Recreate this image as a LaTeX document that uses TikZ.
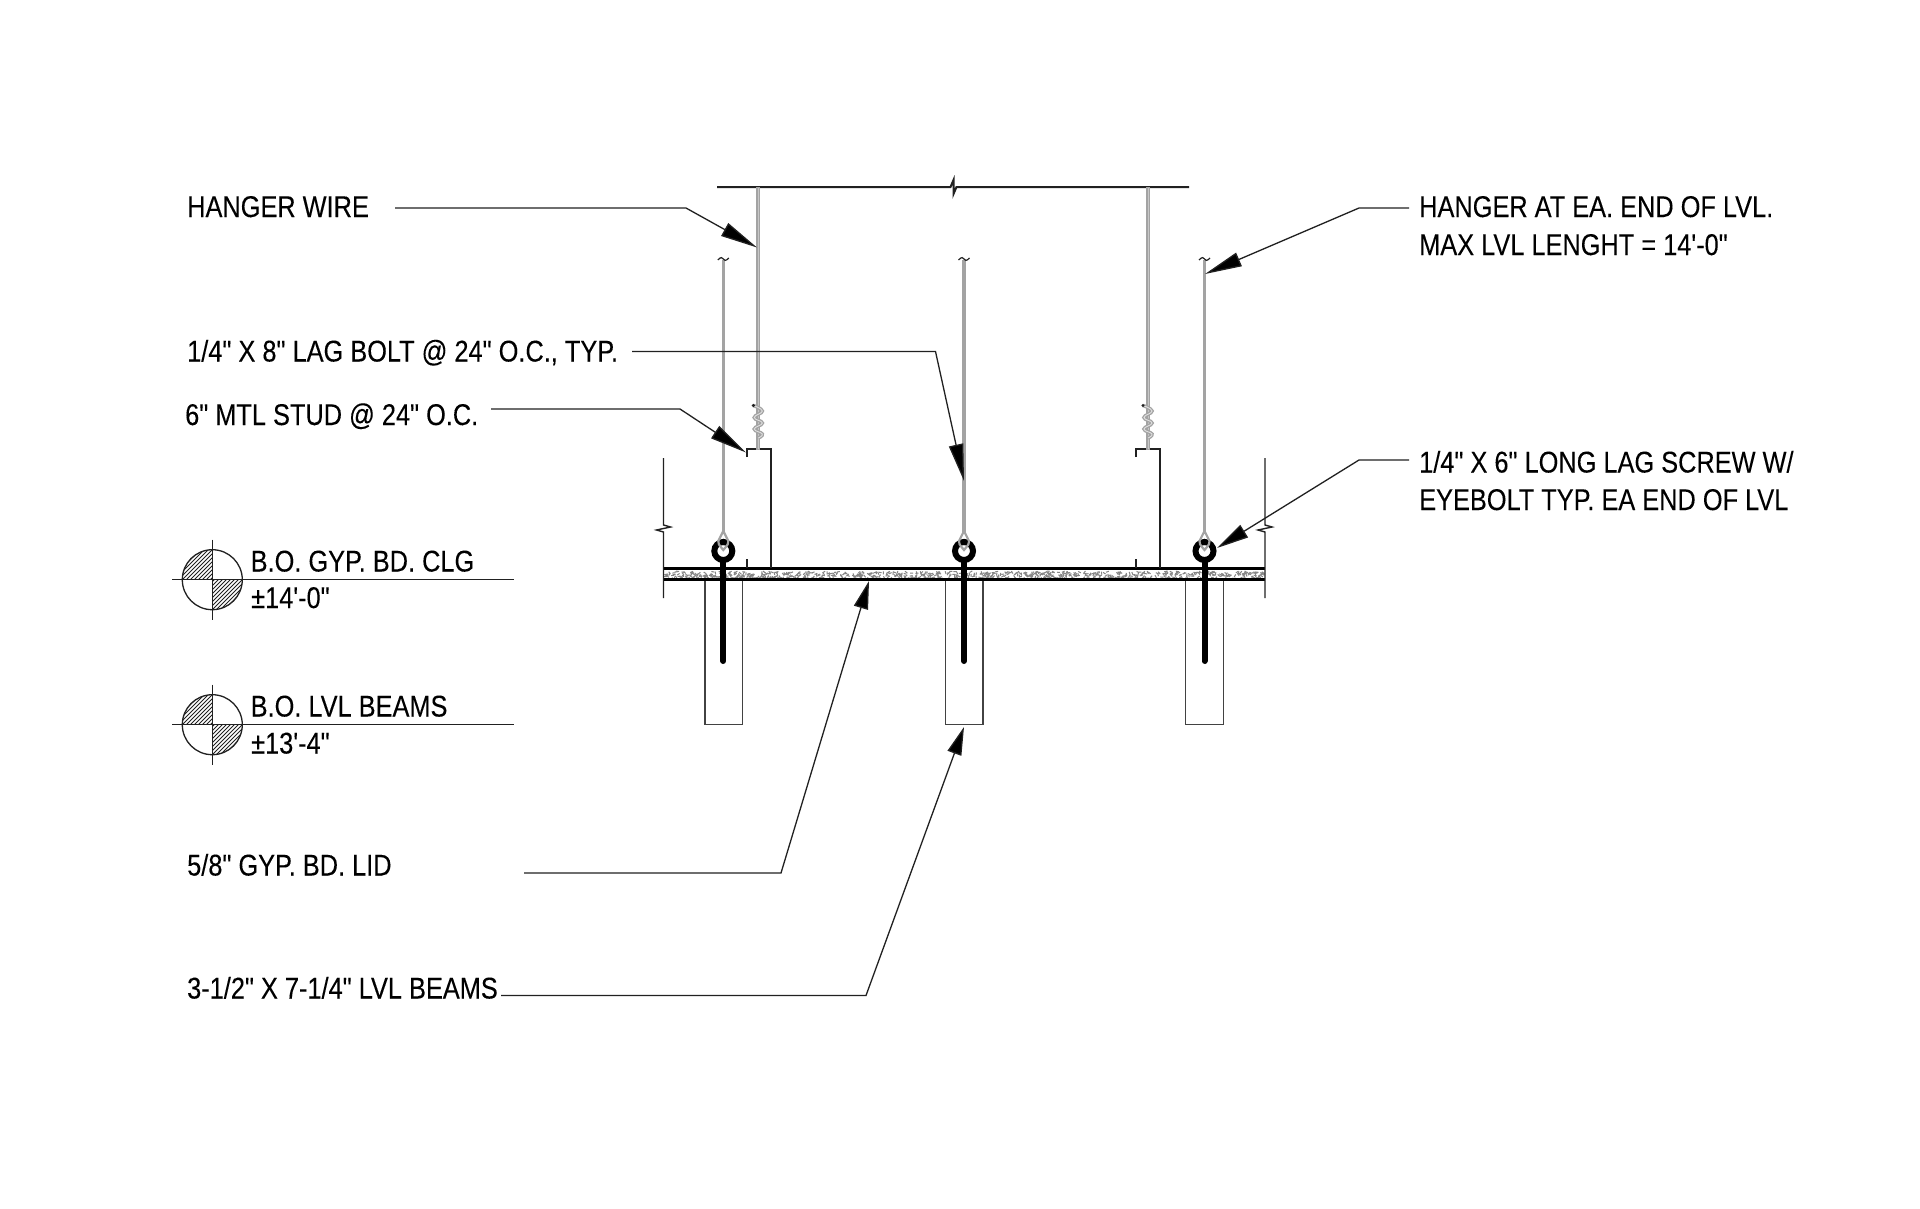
\documentclass[tikz,border=0pt]{standalone}
\usepackage{fontspec}
\newfontfamily\lab[FakeStretch=0.845,FakeBold=0.12]{Liberation Sans}
\usetikzlibrary{arrows.meta}
\definecolor{wiregray}{gray}{0.64}
\definecolor{ink}{gray}{0.13}
\tikzset{
  x=1pt,y=-1pt,
  txt/.style={anchor=base west,inner sep=0pt,font=\lab\fontsize{30}{30}\selectfont,text=black},
  leader/.style={draw=ink,line width=1.3pt,-{Triangle[length=#1,width=14.5pt,fill=black]}},
  thin line/.style={draw=ink!85!white,line width=1.6pt},
  heavy/.style={draw=black,line width=2.8pt},
  wire/.style={draw=wiregray,line width=3.3pt},
  bolt/.style={draw=black,line width=6pt,line cap=round},
}
\newcommand{\eyebolt}[1]{%
  \draw[bolt] (#1,551) circle (9);
  \draw[bolt] (#1,561) -- (#1,661);
  \draw[wire,line width=2.2pt] (#1,531) -- (#1-5,541) .. controls (#1-5,544) .. (#1,550) .. controls (#1+5,544) .. (#1+5,541) -- cycle;
  \draw[wire,line width=3.6pt] (#1,527) -- (#1,533);
  \fill[black] (#1,542) circle (3.2);
}
\newcommand{\tiewire}[1]{%
  \draw[wiregray,line width=1.3pt,double=black!12,double distance=.9pt]
    plot[smooth,tension=.8] coordinates {(#1-5,405.5) (#1+4,411) (#1-4,417.5) (#1+4,423) (#1-4,429) (#1+4,434) (#1,438)};
  \fill[ink] (#1-5,405.5) circle (1.7);
}
\newcommand{\levelmark}[2]{%
  \begin{scope}
    \clip (#1,#2) -- (#1-30,#2) arc (180:270:30) -- cycle;
    \foreach \i in {-92,-88,...,32}{\draw[ink,line width=.9pt] (#1+\i,#2+30) -- (#1+\i+60,#2-30);}
  \end{scope}
  \begin{scope}
    \clip (#1,#2) -- (#1+30,#2) arc (0:90:30) -- cycle;
    \foreach \i in {-32,-28,...,32}{\draw[ink,line width=.9pt] (#1+\i,#2+30) -- (#1+\i+60,#2-30);}
  \end{scope}
  \draw[line width=1.3pt,draw=ink] (#1,#2) circle (30);
  \draw[line width=1.3pt,draw=ink] (#1,#2-40) -- (#1,#2+40);
  \draw[line width=1.3pt,draw=ink] (#1-40,#2) -- (514,#2);
}
\begin{document}
\begin{tikzpicture}
\useasboundingbox (0,0) rectangle (1920,1208);
\fill[white] (0,0) rectangle (1920,1208);

% gypsum board
\pgfmathsetseed{4242}
\foreach \i in {1,...,800}{
  \pgfmathsetmacro{\px}{665+598*rnd}
  \pgfmathsetmacro{\py}{571+7*rnd}
  \pgfmathsetmacro{\ang}{180*rnd}
  \draw[black!48,line width=1pt] (\px,\py) -- ++(\ang:3);
}
\draw[heavy] (663,568.5) -- (1265,568.5);
\draw[heavy,line width=3.2pt] (663,579.5) -- (1265,579.5);

% beams
\draw[thin line] (705,581) -- (705,724.5) -- (742.5,724.5) -- (742.5,581);
\draw[thin line] (945.5,581) -- (945.5,724.5) -- (983,724.5) -- (983,581);
\draw[thin line] (1185.5,581) -- (1185.5,724.5) -- (1223.5,724.5) -- (1223.5,581);

% side break lines
\foreach \bx in {663.5,1265}{
  \draw[line width=1.4pt,draw=ink] (\bx,458) -- (\bx,525) -- (\bx+7,527) -- (\bx-7,530) -- (\bx,532) -- (\bx,598);
}

% top line
\draw[line width=2pt,draw=ink] (717,187) -- (950.5,187) -- (953.5,180) -- (953.5,194) -- (956.5,187) -- (1189,187);

% studs
\draw[line width=2pt,draw=ink] (746.5,457) -- (746.5,448.5) -- (770.5,448.5) -- (770.5,568);
\draw[line width=2pt,draw=ink] (746.5,559) -- (746.5,568);
\draw[line width=2pt,draw=ink] (1136,457) -- (1136,448.5) -- (1160,448.5) -- (1160,568);
\draw[line width=2pt,draw=ink] (1136,559) -- (1136,568);

% wires
\foreach \wx in {758.3,1148}{
  \draw[wire,line width=3.8pt] (\wx,187) -- (\wx,450);
  \draw[black!22,line width=.9pt] (\wx,188) -- (\wx,449);
  \tiewire{\wx}
}
\foreach \wx in {723.3,964,1204.5}{
  \draw[wire] (\wx,260) -- (\wx,530);
  \draw[line width=1.2pt,draw=ink] (\wx-5.5,260) .. controls (\wx-2.5,256.5) and (\wx-0.5,257.5) .. (\wx,259)
     .. controls (\wx+0.5,260.5) and (\wx+2.5,261.5) .. (\wx+5.5,258);
  \eyebolt{\wx}
}

% level marks
\levelmark{212.3}{579.7}
\levelmark{212.3}{724.7}
\node[txt] (tclg) at (250.5,571.5) {B.O. GYP. BD. CLG};
\node[txt] (tclgv) at (251,608) {±14'-0"};
\node[txt] (tlvl) at (250.5,716.5) {B.O. LVL BEAMS};
\node[txt] (tlvlv) at (251,753.5) {±13'-4"};

% labels
\node[txt] (thw) at (187,217) {HANGER WIRE};
\node[txt] (tlag) at (187,361.5) {1/4" X 8" LAG BOLT @ 24" O.C., TYP.};
\node[txt] (tstud) at (185,425) {6" MTL STUD @ 24" O.C.};
\node[txt] (tgyp) at (187,875.5) {5/8" GYP. BD. LID};
\node[txt] (tbeam) at (187,998.5) {3-1/2" X 7-1/4" LVL BEAMS};
\node[txt] (than) at (1419,217) {HANGER AT EA. END OF LVL.};
\node[txt] (tmax) at (1419,255) {MAX LVL LENGHT = 14'-0"};
\node[txt] (tscr) at (1419,472.5) {1/4" X 6" LONG LAG SCREW W/};
\node[txt] (teye) at (1419,510) {EYEBOLT TYP. EA END OF LVL};

% leaders
\coordinate (a1) at (395,208); \coordinate (e1) at (686,208); \coordinate (h1) at (757,247.5);
\coordinate (a2) at (632,351.5); \coordinate (e2) at (935.5,351.5); \coordinate (h2) at (964,481);
\coordinate (a3) at (491,409); \coordinate (e3) at (680,409); \coordinate (h3) at (746,452.5);
\coordinate (a4) at (524,873); \coordinate (e4) at (781,873); \coordinate (h4) at (869,581);
\coordinate (a5) at (501,995.5); \coordinate (e5) at (866,995.5); \coordinate (h5) at (964,727);
\coordinate (a6) at (1409,208); \coordinate (e6) at (1359,208); \coordinate (h6) at (1205,274);
\coordinate (a7) at (1409,460); \coordinate (e7) at (1359,460); \coordinate (h7) at (1217,548);
\foreach \n/\len in {1/37pt,2/37pt,3/37pt,4/28pt,5/28pt,6/37pt,7/32pt}{
  \draw[leader=\len] (a\n) -- (e\n) -- (h\n);
}
\end{tikzpicture}
\end{document}
